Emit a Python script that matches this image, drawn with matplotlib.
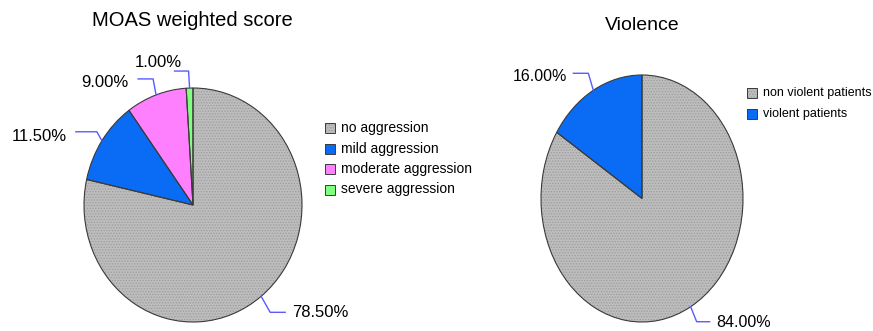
import numpy as np
import matplotlib
matplotlib.use("Agg")
import matplotlib.pyplot as plt
from matplotlib.patches import Rectangle

# MOAS weighted score (percent of patients)
moas_labels = ["no aggression", "mild aggression", "moderate aggression", "severe aggression"]
moas_values = [78.5, 11.5, 9.0, 1.0]

# violence split (percent of patients)
viol_labels = ["non violent patients", "violent patients"]
viol_values = [84.0, 16.0]

GRAY = "#bdbdbd"
BLUE = "#0a6cf4"
PINK = "#ff80ff"
GREEN = "#80ff80"
LEADER = "#5a5aff"
EDGE = "#3a3a3a"
SANS = ["Liberation Sans", "DejaVu Sans"]

plt.rcParams["hatch.linewidth"] = 0.6

W, H = 873, 331
fig = plt.figure(figsize=(W / 100, H / 100), dpi=100)


def px_axes(x0, y0, x1, y1):
    # axes placed by pixel box (top-left origin)
    return fig.add_axes([x0 / W, (H - y1) / H, (x1 - x0) / W, (y1 - y0) / H])


def draw_pie(ax, values, colors, hatched):
    # filled wedges with stipple on the gray ones, then outlines on top
    wedges, _ = ax.pie(values, colors=colors, startangle=90, counterclock=False,
                       wedgeprops=dict(linewidth=0, edgecolor="#9c9c9c"))
    for w, h in zip(wedges, hatched):
        if h:
            w.set_hatch("......")
    ax.pie(values, colors=["none"] * len(values), startangle=90, counterclock=False,
           wedgeprops=dict(linewidth=0.8, edgecolor=EDGE))
    ax.set_xlim(-1, 1)
    ax.set_ylim(-1, 1)
    ax.set_aspect("auto")
    ax.axis("off")
    # mid angle of each wedge (degrees)
    total = sum(values)
    start = 90.0
    mids = []
    for v in values:
        span = 360.0 * v / total
        mids.append(start - span / 2)
        start -= span
    return mids


def leader(ax, angle, rx, ry, elbow, run, toff, text, ha, size):
    # edge point -> elbow -> horizontal run, offsets in pixels (y down)
    a = np.radians(angle)
    x0, y0 = np.cos(a), np.sin(a)
    x1, y1 = x0 + elbow[0] / rx, y0 - elbow[1] / ry
    x2 = x1 + run / rx
    ax.plot([x0, x1, x2], [y0, y1, y1], color=LEADER, lw=1.0, clip_on=False)
    ax.text(x2 + toff[0] / rx, y1 - toff[1] / ry, text, ha=ha, va="center",
            fontsize=size, family=SANS, clip_on=False)


def legend_rows(x, y, dy, labels, colors, hatched, size):
    for i, (lab, c, h) in enumerate(zip(labels, colors, hatched)):
        yc = y + i * dy
        box = ((x) / W, (H - yc - 5) / H)
        fig.add_artist(Rectangle(box, 10 / W, 10 / H, transform=fig.transFigure,
                                 facecolor=c, edgecolor="#9c9c9c", linewidth=0,
                                 hatch="......" if h else None))
        fig.add_artist(Rectangle(box, 10 / W, 10 / H, transform=fig.transFigure,
                                 facecolor="none", edgecolor=EDGE, linewidth=0.7))
        fig.text((x + 16) / W, (H - yc) / H, lab, ha="left", va="center",
                 fontsize=size, family=SANS)


# left pie: MOAS weighted score
ax1 = px_axes(84, 88, 302, 322)
rx1, ry1 = 109, 117
moas_colors = [GRAY, BLUE, PINK, GREEN]
moas_hatch = [True, False, False, False]
mids1 = draw_pie(ax1, moas_values, moas_colors, moas_hatch)
left_lead = [((9, 16), 15, (7, 0), "left"),
             ((-5, -9), -21, (-9, 5), "right"),
             ((-3, -16), -15, (-10, 4), "right"),
             ((-1, -17), -14, (7, -9), "right")]
for m, v, (el, run, toff, ha) in zip(mids1, moas_values, left_lead):
    leader(ax1, m, rx1, ry1, el, run, toff, f"{v:.2f}%", ha, 12)
fig.text(192 / W, (H - 21) / H, "MOAS weighted score", ha="center", va="center",
         fontsize=14.5, family=SANS)
legend_rows(325, 128, 20.5, moas_labels, moas_colors, moas_hatch, 10)

# right pie: violence
ax2 = px_axes(541, 75, 743, 322)
rx2, ry2 = 101, 123.5
viol_colors = [GRAY, BLUE]
viol_hatch = [True, False]
mids2 = draw_pie(ax2, viol_values, viol_colors, viol_hatch)
right_lead = [((6, 15), 13, (7, 1), "left"),
              ((-5, -17), -15, (-6, 3), "right")]
for m, v, (el, run, toff, ha) in zip(mids2, viol_values, right_lead):
    leader(ax2, m, rx2, ry2, el, run, toff, f"{v:.2f}%", ha, 11.5)
fig.text(642 / W, (H - 25) / H, "Violence", ha="center", va="center",
         fontsize=14, family=SANS)
legend_rows(747, 93, 21, viol_labels, viol_colors, viol_hatch, 9)

fig.savefig("out.png", dpi=100)
